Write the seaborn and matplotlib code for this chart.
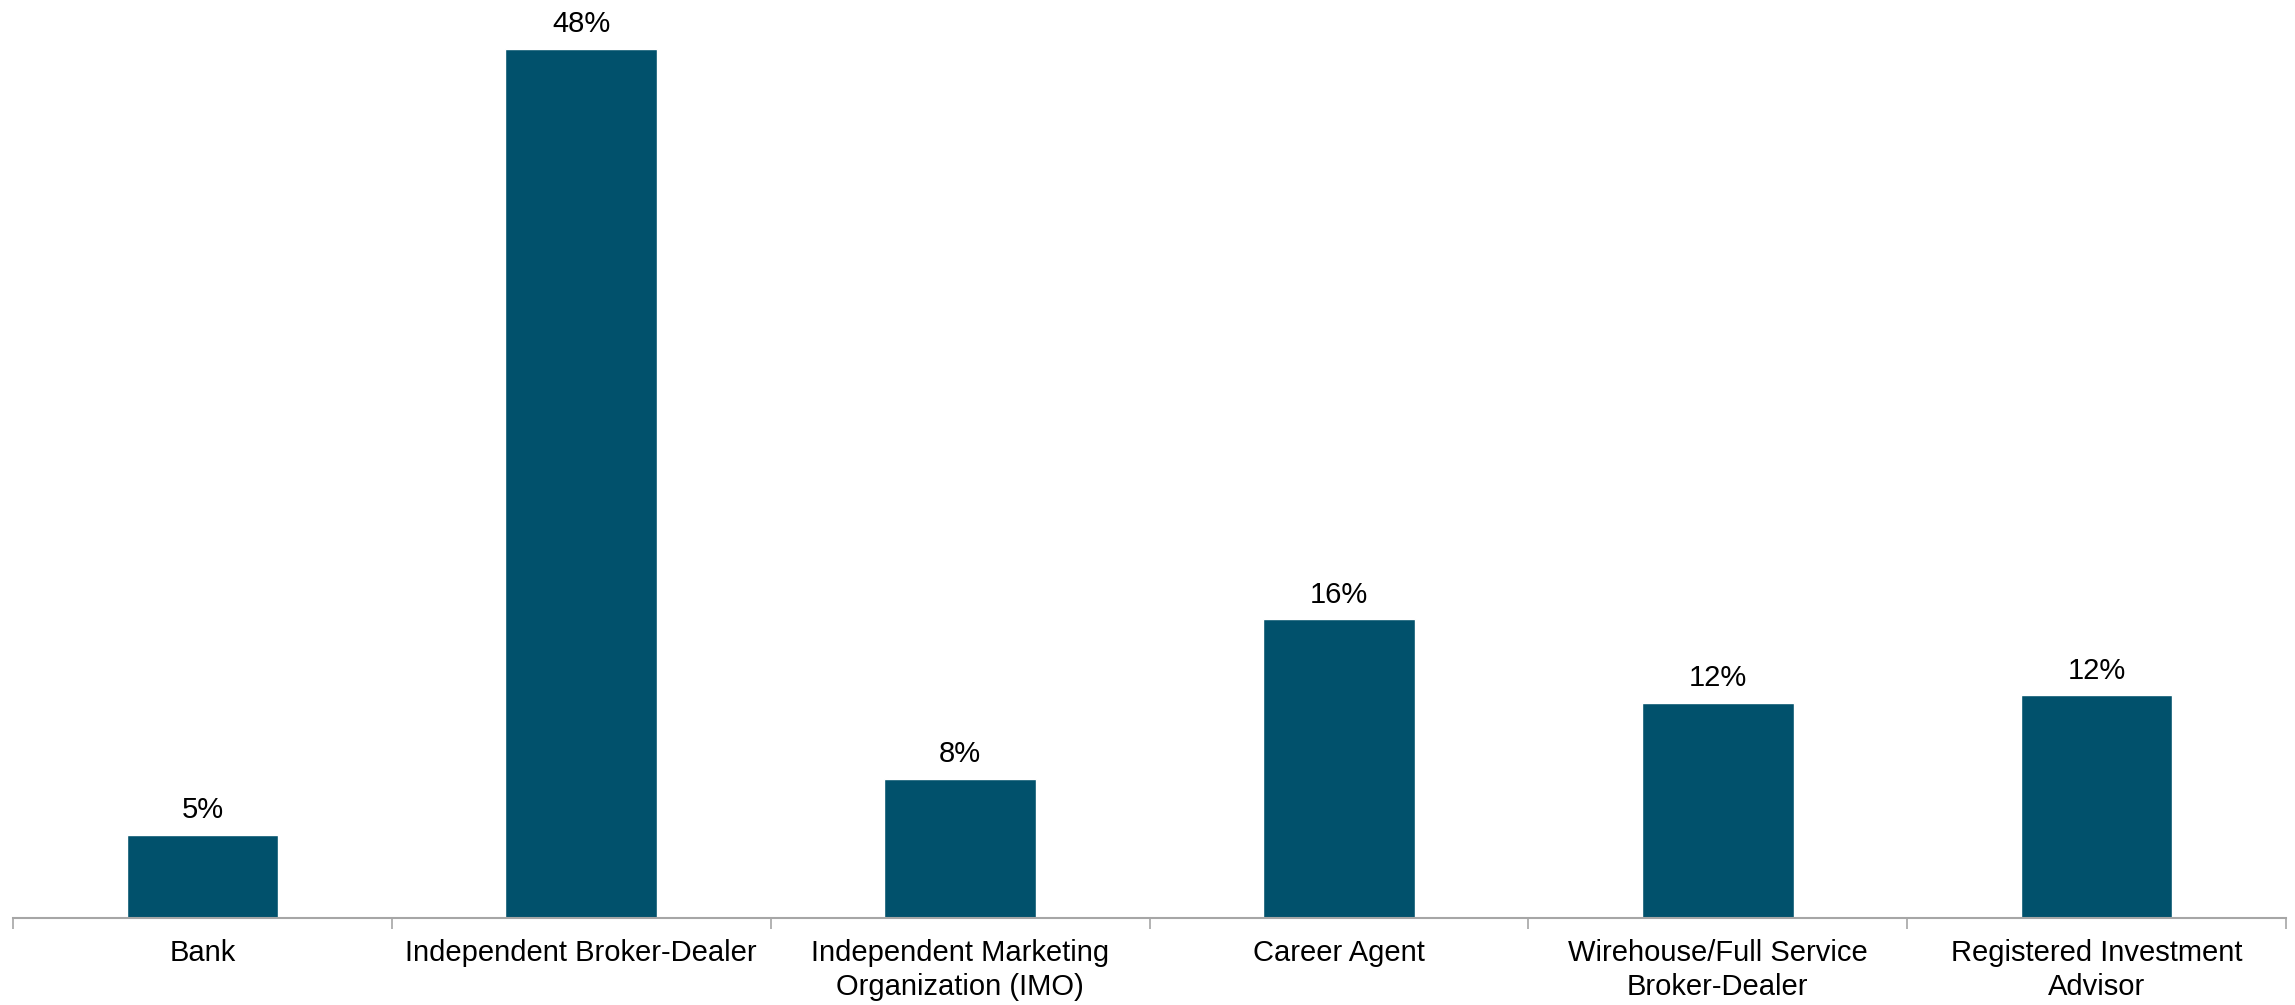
import matplotlib
matplotlib.use("Agg")
import matplotlib.pyplot as plt
import seaborn as sns
import pandas as pd
import numpy as np

# Share of respondents by distribution channel (%)
channels = [
    "Bank",
    "Independent Broker-Dealer",
    "Independent Marketing\nOrganization (IMO)",
    "Career Agent",
    "Wirehouse/Full Service\nBroker-Dealer",
    "Registered Investment\nAdvisor",
]
shares = [4.6, 48.0, 7.7, 16.5, 11.9, 12.3]

BAR_COLOR = "#01516C"
AXIS_COLOR = "#A6A6A6"

sns.set_theme(style="white")
plt.rcParams["font.family"] = ["Liberation Sans", "DejaVu Sans"]

df = pd.DataFrame({"channel": channels, "share": shares})

fig = plt.figure(figsize=(22.95, 10.05), dpi=100)
ax = fig.add_axes([13 / 2295, 87 / 1005, 2273 / 2295, 918 / 1005])

sns.barplot(data=df, x="channel", y="share", color=BAR_COLOR, width=0.4,
            saturation=1, ax=ax)

ax.set_xlim(-0.5, len(channels) - 0.5)
ax.set_ylim(0, 50.7)

# value labels above each bar
for i, v in enumerate(shares):
    ax.annotate(f"{round(v)}%", (i, v), xytext=(0, 7.5), textcoords="offset points",
                ha="center", va="bottom", fontsize=21, color="black")

# axis styling: only a grey baseline with dividers between categories
for side in ["left", "right", "top"]:
    ax.spines[side].set_visible(False)
ax.spines["bottom"].set_color(AXIS_COLOR)
ax.spines["bottom"].set_linewidth(1.5)
ax.set_yticks([])
ax.set_xlabel("")
ax.set_ylabel("")

ax.set_xticks(np.arange(len(channels)))
ax.set_xticklabels(channels, fontsize=21, color="black", linespacing=1.28)
for t in ax.get_xticklabels():
    t.set_multialignment("center")
ax.tick_params(axis="x", which="major", length=0, pad=15)
ax.set_xticks(np.arange(-0.5, len(channels)), minor=True)
ax.tick_params(axis="x", which="minor", bottom=True, length=8, width=1.2,
               color=AXIS_COLOR, direction="out")

fig.savefig("out.png", dpi=100)
